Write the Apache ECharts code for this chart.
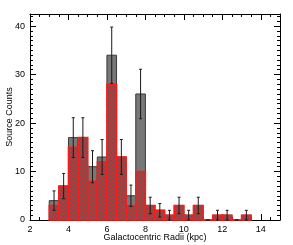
<!DOCTYPE html>
<html><head><meta charset="utf-8">
<script src="https://cdn.jsdelivr.net/npm/echarts@6/dist/echarts.min.js"></script>
<style>html,body{margin:0;padding:0;background:#fff}#c{width:293px;height:245px}</style>
</head><body><div id="c"></div>
<script>
// ---- data ----
const binStarts = [3.0,3.5,4.0,4.5,5.0,5.5,6.0,6.5,7.0,7.5,8.0,8.5,9.0,9.5,10.0,10.5,11.0,11.5,12.0,12.5,13.0];
const binWidth = 0.5;
const totalCounts  = [4,7,17,17,11,13,34,13,5,26,3,2,1,3,1,3,0,1,1,0,1];
const subsetCounts = [3,7,15,17,8,12,28,13,3,10,3,2,1,3,1,3,0,1,1,0,1];
const countErrors  = [2.0,2.6,4.1,4.1,3.3,3.6,5.8,3.6,2.2,5.1,1.7,1.4,1.0,1.7,1.0,1.7,0,1.0,1.0,0,1.0];
const xRange = [2, 15];
const yRange = [0, 42.5];
const xLabel = 'Galactocentric Radii (kpc)';
const yLabel = 'Source Counts';

// hatch pattern
const pc = document.createElement('canvas');
pc.width = 4; pc.height = 4;
const g = pc.getContext('2d');
g.fillStyle = '#5e5a5a';
g.fillRect(0, 0, 4, 4);
g.fillStyle = '#de2a2a';
for (let i = 0; i < 4; i++) { g.fillRect(i, i, 1, 1); g.fillRect((i + 1) % 4, i, 1, 1); }

const totalData = binStarts.map((s, i) => [s, s + binWidth, totalCounts[i]]);
const subsetData = binStarts.map((s, i) => [s, s + binWidth, subsetCounts[i]]);
const errData = binStarts.map((s, i) => [s + binWidth / 2, totalCounts[i], countErrors[i]]);

function barRenderer(fill, stroke, lw) {
  return function (params, api) {
    const p0 = api.coord([api.value(0), api.value(2)]);
    const p1 = api.coord([api.value(1), 0]);
    return {
      type: 'rect',
      shape: { x: p0[0], y: p0[1], width: p1[0] - p0[0], height: p1[1] - p0[1] },
      style: { fill: fill, stroke: stroke, lineWidth: lw }
    };
  };
}

const font = 'Liberation Sans, Arial, sans-serif';
const black = '#000';
function majorX(pos, labels) {
  return { type: 'value', min: xRange[0], max: xRange[1], interval: 2, position: pos,
    axisLine: { show: true, onZero: false, lineStyle: { color: black, width: 1 } },
    axisTick: { show: true, inside: true, length: 6, lineStyle: { color: black } },
    axisLabel: { show: labels, color: black, fontSize: 9, fontFamily: font, margin: 5, showMaxLabel: false },
    splitLine: { show: false },
    name: labels ? xLabel : '', nameLocation: 'middle', nameGap: 13, nameMoveOverlap: false,
    nameTextStyle: { color: black, fontSize: 9, fontFamily: font } };
}
function minorX(pos) {
  return { type: 'value', min: xRange[0], max: xRange[1], interval: 0.5, position: pos,
    axisLine: { show: false, onZero: false }, axisTick: { show: true, inside: true, length: 3, lineStyle: { color: black } },
    axisLabel: { show: false }, splitLine: { show: false } };
}
function majorY(pos, labels) {
  return { type: 'value', min: yRange[0], max: yRange[1], interval: 10, position: pos,
    axisLine: { show: true, onZero: false, lineStyle: { color: black, width: 1 } },
    axisTick: { show: true, inside: true, length: 6, lineStyle: { color: black } },
    axisLabel: { show: labels, color: black, fontSize: 9, fontFamily: font, margin: 5, showMaxLabel: false },
    splitLine: { show: false },
    name: labels ? yLabel : '', nameLocation: 'middle', nameGap: 16, nameMoveOverlap: false,
    nameTextStyle: { color: black, fontSize: 9, fontFamily: font } };
}
function minorY(pos) {
  return { type: 'value', min: yRange[0], max: yRange[1], interval: 1, position: pos,
    axisLine: { show: false, onZero: false }, axisTick: { show: true, inside: true, length: 3, lineStyle: { color: black } },
    axisLabel: { show: false }, splitLine: { show: false } };
}

const chart = echarts.init(document.getElementById('c'), null, { renderer: 'canvas' });
chart.setOption({
  animation: false,
  backgroundColor: '#fff',
  grid: { left: 30, right: 13, top: 14, bottom: 25, containLabel: false, outerBoundsMode: 'none' },
  xAxis: [majorX('bottom', true), minorX('bottom'), majorX('top', false), minorX('top')],
  yAxis: [majorY('left', true), minorY('left'), majorY('right', false), minorY('right')],
  series: [
    { type: 'custom', xAxisIndex: 0, yAxisIndex: 0, data: totalData, encode: { x: [0, 1], y: 2 },
      renderItem: barRenderer('#787878', '#3a3a3a', 1), z: 2 },
    { type: 'custom', xAxisIndex: 0, yAxisIndex: 0, data: subsetData, encode: { x: [0, 1], y: 2 },
      renderItem: barRenderer({ image: pc, repeat: 'repeat' }, '#ff1a1a', 1.5), z: 3 },
    { type: 'custom', xAxisIndex: 0, yAxisIndex: 0, data: errData, encode: { x: 0, y: 1 }, z: 4,
      renderItem: function (params, api) {
        const xc = api.value(0), v = api.value(1), e = api.value(2);
        const t = api.coord([xc, v + e]), b = api.coord([xc, Math.max(0, v - e)]);
        const st = { stroke: '#1a1a1a', lineWidth: 1 };
        return { type: 'group', children: [
          { type: 'line', shape: { x1: t[0], y1: t[1], x2: b[0], y2: b[1] }, style: st },
          { type: 'line', shape: { x1: t[0] - 1.5, y1: t[1], x2: t[0] + 1.5, y2: t[1] }, style: st },
          { type: 'line', shape: { x1: b[0] - 1.5, y1: b[1], x2: b[0] + 1.5, y2: b[1] }, style: st }
        ] };
      } }
  ]
});
</script></body></html>
